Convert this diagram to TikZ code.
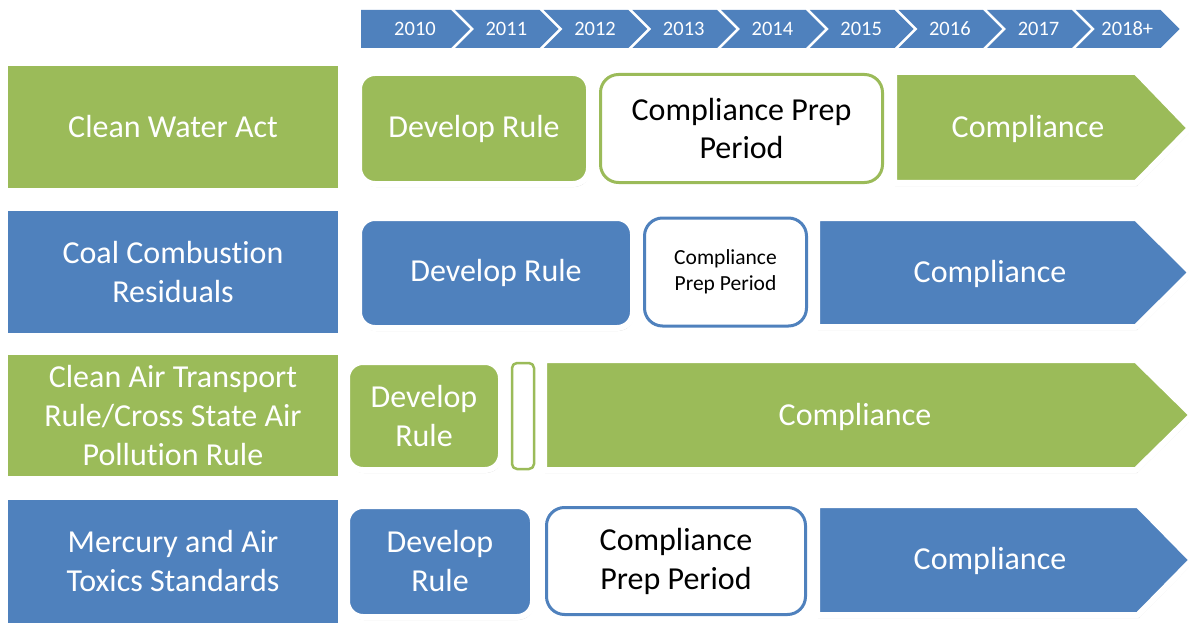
\documentclass[tikz,border=0pt]{standalone}
\usepackage{fontspec}
\setmainfont{Carlito}[Ligatures=NoCommon]
\usepackage{tikz}
\usetikzlibrary{shadows}

\definecolor{ogreen}{HTML}{9BBB59}
\definecolor{oblue}{HTML}{4F81BD}

\begin{document}
\begin{tikzpicture}[x=1pt, y=-1pt, line join=round,
    big/.style={font=\fontsize{32}{39}\selectfont},
    rowlabel/.style={big, fill=#1, text=white, align=center, inner sep=0pt,
      minimum width=330pt},
    devbox/.style={big, fill=#1, draw=white, line width=6pt, rounded corners=16pt,
      text=white, align=center, inner sep=0pt,
      drop shadow={shadow xshift=1pt, shadow yshift=-3pt, opacity=0.3, fill=gray}},
    prepbox/.style={fill=white, draw=#1, line width=3pt, rounded corners=18pt,
      align=center, inner sep=0pt},
    comparrow/.style={fill=#1, draw=white, line width=6pt,
      drop shadow={shadow xshift=1pt, shadow yshift=-3pt, opacity=0.3, fill=gray}},
    wtext/.style={big, text=white, inner sep=0pt}]
  \useasboundingbox (0,0) rectangle (1189,623);

  % timeline of years
  \foreach \yr [count=\i from 0] in {2010,2011,2012,2013,2014,2015,2016,2017,2018+} {
    \pgfmathsetmacro\xb{451+88.7*\i}
    \pgfmathsetmacro\xa{\i==0 ? 361 : \xb-84.7}
    \pgfmathsetmacro\nd{\i==0 ? 0 : 19}
    \fill[oblue] (\xa,10) -- (\xb,10) -- (\xb+19,29) -- (\xb,48) -- (\xa,48)
      -- (\xa+\nd,29) -- cycle;
    \node[text=white, font=\fontsize{20.5}{24}\selectfont] (yr\i)
      at ({(\xa+\xb)/2+9},29) {\yr};
  }

  % row labels
  \node[rowlabel=ogreen, minimum height=122pt] (cwa) at (173,127) {Clean Water Act};
  \node[rowlabel=oblue, minimum height=122pt] (ccr) at (173,272) {Coal Combustion\\Residuals};
  \node[rowlabel=ogreen, minimum height=121pt] (csapr) at (173,415.5)
    {Clean Air Transport\\Rule/Cross State Air\\Pollution Rule};
  \node[rowlabel=oblue, minimum height=123pt] (mats) at (173,561) {Mercury and Air\\Toxics Standards};

  % Clean Water Act
  \node[devbox=ogreen, minimum width=230pt, minimum height=111pt] (cwaDev) at (474,128.5) {Develop Rule};
  \node[prepbox=ogreen, big, minimum width=282pt, minimum height=108pt] (cwaPrep) at (741.5,128.5)
    {Compliance Prep\\Period};
  \draw[comparrow=ogreen] (894,72) -- (1136,72) -- (1190,128) -- (1136,183) -- (894,183) -- cycle;
  \node[wtext] (cwaComp) at (1028,129) {Compliance};

  % Coal Combustion Residuals
  \node[devbox=oblue, minimum width=274pt, minimum height=110pt] (ccrDev) at (496,273) {Develop Rule};
  \node[prepbox=oblue, font=\fontsize{21.5}{26}\selectfont, minimum width=162pt,
    minimum height=108pt] (ccrPrep) at (725.5,272) {Compliance\\Prep Period};
  \draw[comparrow=oblue] (817,218) -- (1136,218) -- (1191,272.5) -- (1136,327) -- (817,327) -- cycle;
  \node[wtext] (ccrComp) at (990,274) {Compliance};

  % Cross State Air Pollution Rule
  \node[devbox=ogreen, minimum width=154pt, minimum height=108pt] (csaprDev) at (424,416) {Develop\\Rule};
  \node[prepbox=ogreen, line width=2.5pt, rounded corners=5pt, minimum width=22pt,
    minimum height=106pt] (csaprPrep) at (523,416) {};
  \draw[comparrow=ogreen] (544,360) -- (1136,360) -- (1192,415) -- (1136,470) -- (544,470) -- cycle;
  \node[wtext] (csaprComp) at (855,417) {Compliance};

  % Mercury and Air Toxics Standards
  \node[devbox=oblue, minimum width=186pt, minimum height=111pt] (matsDev) at (440,561.5) {Develop\\Rule};
  \node[prepbox=oblue, big, minimum width=259pt, minimum height=107pt] (matsPrep) at (676,561)
    {Compliance\\Prep Period};
  \draw[comparrow=oblue] (817,505) -- (1138,505) -- (1192,560) -- (1138,615) -- (817,615) -- cycle;
  \node[wtext] (matsComp) at (990,561) {Compliance};
\end{tikzpicture}
\end{document}
